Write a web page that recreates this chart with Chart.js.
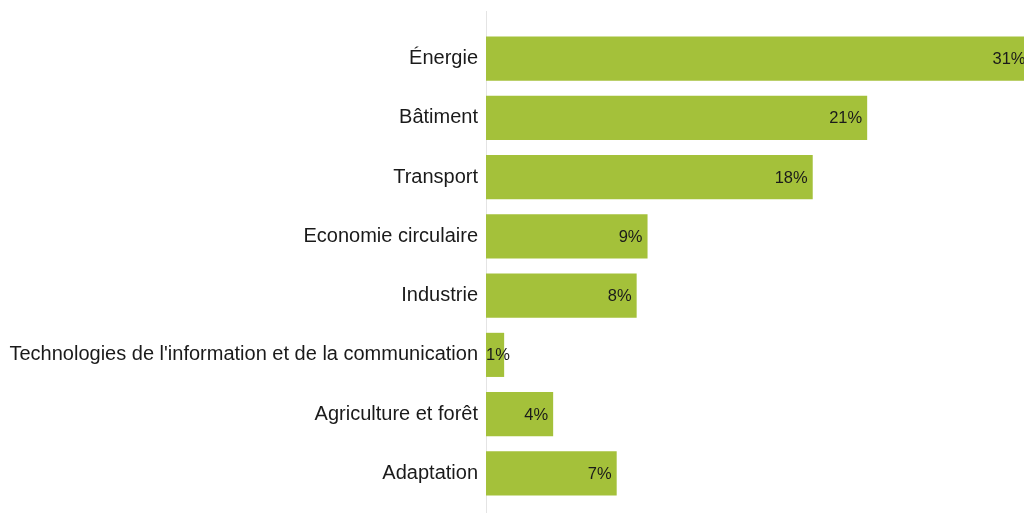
<!DOCTYPE html>
<html>
<head>
<meta charset="utf-8">
<script src="https://cdn.jsdelivr.net/npm/chart.js@4"></script>
<style>
html,body{margin:0;padding:0;background:#fff;overflow:hidden;}
body{width:1024px;height:513px;}
#wrap{width:1024px;height:523px;position:relative;}
</style>
</head>
<body>
<div id="wrap"><canvas id="c"></canvas></div>
<script>
const categories = ["Énergie","Bâtiment","Transport","Economie circulaire","Industrie","Technologies de l'information et de la communication","Agriculture et forêt","Adaptation"];
const values = [30.0, 21.0, 18.0, 8.9, 8.3, 1.0, 3.7, 7.2];
const valueLabels = ["31%","21%","18%","9%","8%","1%","4%","7%"];
const xMax = 29.64;

const barLabels = {
  id: 'barLabels',
  afterDatasetsDraw(chart) {
    const ctx = chart.ctx;
    const meta = chart.getDatasetMeta(0);
    const xs = chart.scales.x;
    const left = chart.chartArea.left;
    ctx.save();
    ctx.font = '16.5px "Liberation Sans", Arial, sans-serif';
    ctx.fillStyle = '#1a1a1a';
    ctx.textBaseline = 'middle';
    meta.data.forEach((bar, i) => {
      const xEnd = xs.getPixelForValue(values[i]);
      const w = ctx.measureText(valueLabels[i]).width;
      if (xEnd - 5 - w < left) {
        ctx.textAlign = 'left';
        ctx.fillText(valueLabels[i], left, bar.y + 1);
      } else {
        ctx.textAlign = 'right';
        ctx.fillText(valueLabels[i], xEnd - 5, bar.y + 1);
      }
    });
    ctx.restore();
  }
};
const axisLine = {
  id: 'axisLine',
  beforeDatasetsDraw(chart) {
    const ctx = chart.ctx;
    const x = chart.chartArea.left + 0.5;
    ctx.save();
    ctx.strokeStyle = '#e4e4e4';
    ctx.lineWidth = 1;
    ctx.beginPath();
    ctx.moveTo(x, 11);
    ctx.lineTo(x, chart.height);
    ctx.stroke();
    ctx.restore();
  }
};

new Chart(document.getElementById('c'), {
  type: 'bar',
  data: {
    labels: categories,
    datasets: [{
      data: values,
      backgroundColor: '#a4c13a',
      borderWidth: 0,
      barPercentage: 0.745,
      categoryPercentage: 1.0
    }]
  },
  options: {
    indexAxis: 'y',
    responsive: true,
    maintainAspectRatio: false,
    animation: false,
    layout: { padding: { top: 29, bottom: 0, left: 0, right: 0 } },
    plugins: { legend: { display: false }, tooltip: { enabled: false } },
    scales: {
      x: { display: false, min: 0, max: xMax },
      y: {
        grid: { display: false, drawTicks: false },
        border: { display: false },
        ticks: {
          color: '#1a1a1a',
          padding: 8,
          font: { family: '"Liberation Sans", Arial, sans-serif', size: 20 }
        },
        afterFit(scale) { scale.width = 486; }
      }
    }
  },
  plugins: [axisLine, barLabels]
});
</script>
</body>
</html>
